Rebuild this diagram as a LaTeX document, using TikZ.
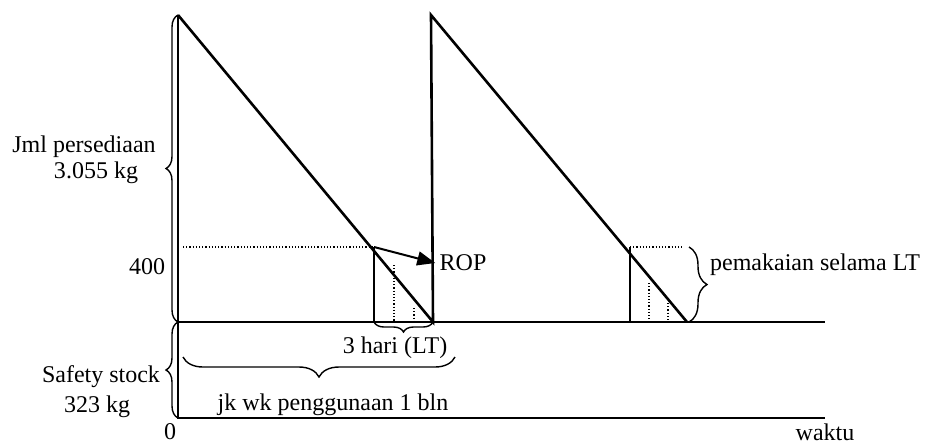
\documentclass[tikz,border=0pt]{standalone}
\usepackage{fontspec}
\setmainfont{Liberation Serif}
\usetikzlibrary{arrows.meta, positioning, calc, decorations.pathreplacing}

\begin{document}
\begin{tikzpicture}[
  x=0.5pt, y=-0.5pt,
  lbl/.style={inner sep=1pt, font=\fontsize{12pt}{14pt}\selectfont},
  axisline/.style={line width=1pt},
  stockline/.style={line width=1.3pt},
  guide/.style={densely dotted, line width=0.6pt},
  brc/.style={decorate, decoration={brace, amplitude=#1}, line width=0.7pt}
]
  \useasboundingbox (0,0) rectangle (925,446);

  % sumbu dan garis safety stock
  \coordinate (o) at (178,418);
  \coordinate (top1) at (178,15);
  \coordinate (ss0) at (178,322);
  \coordinate (ssend) at (825,322);
  \coordinate (tend) at (825,418);
  \draw[axisline] (top1) -- (o) -- (tend);
  \draw[axisline] (ss0) -- (ssend);

  % siklus persediaan
  \coordinate (z1) at (433,322);
  \coordinate (top2) at (431,15);
  \coordinate (z2) at (687,322);
  \draw[stockline] (top1) -- (z1) -- (top2) -- (z2);

  % ROP siklus 1
  \coordinate (r1) at (374,247);
  \coordinate (r1b) at (374,322);
  \draw[guide] (183,247) -- (r1);
  \draw[line width=0.8pt] (r1) -- (r1b);
  \draw[guide] (394,265) -- (394,322);
  \draw[guide] (414,308) -- (414,322);
  \node[lbl, inner sep=2pt] (rop) at (463,263) {ROP};
  \draw[line width=1pt, -{Triangle[length=9pt, width=7pt]}] (r1) -- (rop.west);

  % ROP siklus 2
  \coordinate (r2) at (630,247);
  \coordinate (r2b) at (630,322);
  \draw[guide] (r2) -- (683,247);
  \draw[line width=0.8pt] (r2) -- (r2b);
  \draw[guide] (649,283) -- (649,322);
  \draw[guide] (668,303) -- (668,322);

  % kurung kurawal
  \draw[brc=6pt] (ss0) -- (top1);
  \draw[brc=6pt] (o) -- (ss0);
  \draw[brc=5pt] (z1) -- (r1b);
  \coordinate (bl) at (183,357);
  \coordinate (br) at (455,357);
  \draw[brc=10pt] (br) -- (bl);
  \coordinate (pl) at (689,247);
  \coordinate (pb) at (689,322);
  \draw[brc=9pt] (pl) -- (pb);

  % label
  \node[lbl] (jml) at (84,147) {Jml persediaan};
  \node[lbl] (jmlkg) at (96,173) {3.055 kg};
  \node[lbl] (rop400) at (147,267) {400};
  \node[lbl] (ss) at (101,377) {Safety stock};
  \node[lbl] (sskg) at (97,407) {323 kg};
  \node[lbl] (nol) at (170,432) {0};
  \node[lbl] (lt) at (395,348) {3 hari (LT)};
  \node[lbl] (jkwk) at (333,405) {jk wk penggunaan 1 bln};
  \node[lbl] (pakai) at (815,265) {pemakaian selama LT};
  \node[lbl] (waktu) at (825,432) {waktu};
\end{tikzpicture}
\end{document}
